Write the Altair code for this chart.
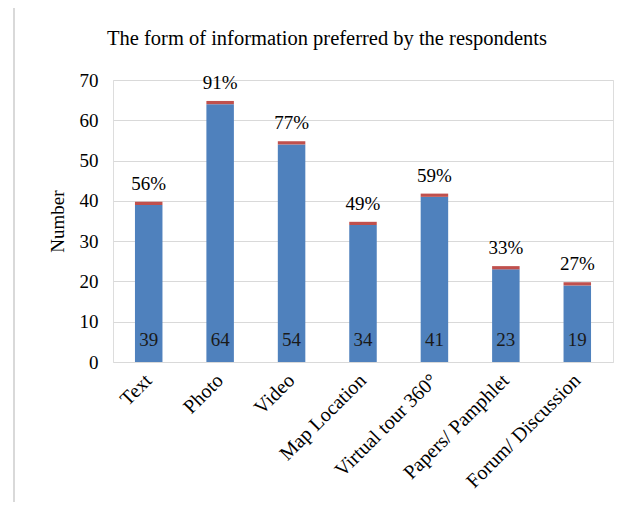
import altair as alt
import pandas as pd

categories = ["Text", "Photo", "Video", "Map Location", "Virtual tour 360°", "Papers/ Pamphlet", "Forum/ Discussion"]
counts = [39, 64, 54, 34, 41, 23, 19]
extra = [0.8, 0.8, 0.8, 0.8, 0.8, 0.8, 0.8]
percents = ["56%", "91%", "77%", "49%", "59%", "33%", "27%"]

FONT = "Times New Roman, Liberation Serif, serif"
FS = 19
BLUE = "#4F81BD"
RED = "#C0504D"

rows = []
for c, v, e in zip(categories, counts, extra):
    rows.append({"cat": c, "series": "a", "value": v, "order": 0})
    rows.append({"cat": c, "series": "b", "value": e, "order": 1})
stack_df = pd.DataFrame(rows)

lab_df = pd.DataFrame({
    "cat": categories,
    "count": counts,
    "total": [v + e for v, e in zip(counts, extra)],
    "pct": percents,
})

xenc = alt.X("cat:N", sort=categories, title=None,
             scale=alt.Scale(paddingInner=0.615, paddingOuter=0.3075),
             axis=alt.Axis(labelAngle=-45, labelAlign="right", labelBaseline="middle",
                           labelFont=FONT, labelFontSize=20, labelColor="#000000",
                           domain=False, ticks=False, labelPadding=15, labelLimit=300))

bars = alt.Chart(stack_df).mark_bar().encode(
    x=xenc,
    y=alt.Y("value:Q", stack="zero", title="Number",
            scale=alt.Scale(domain=[0, 70], nice=False),
            axis=alt.Axis(values=[0, 10, 20, 30, 40, 50, 60, 70], grid=True,
                          gridColor="#D9D9D9", domain=False, ticks=False,
                          labelFont=FONT, labelFontSize=FS, labelColor="#000000",
                          labelPadding=15, titleFont=FONT, titleFontSize=FS,
                          titleFontWeight="normal", titleColor="#000000",
                          titlePadding=12)),
    color=alt.Color("series:N", scale=alt.Scale(domain=["a", "b"], range=[BLUE, RED]), legend=None),
    order=alt.Order("order:Q"),
)

count_text = alt.Chart(lab_df).mark_text(font=FONT, fontSize=FS, color="#1a1a1a", baseline="middle").encode(
    x=alt.X("cat:N", sort=categories),
    y=alt.datum(5.5),
    text=alt.Text("count:Q"),
)

pct_text = alt.Chart(lab_df).mark_text(font=FONT, fontSize=FS, color="#000000", baseline="alphabetic", dy=-12).encode(
    x=alt.X("cat:N", sort=categories),
    y=alt.Y("total:Q"),
    text=alt.Text("pct:N"),
)

border_left = alt.Chart(lab_df).mark_rule(color="#D9D9D9", strokeWidth=1.5).encode(
    x=alt.value(-99), y=alt.value(-75), y2=alt.value(430)
)
border_top = alt.Chart(lab_df).mark_rule(color="#D9D9D9", strokeWidth=1.5).encode(
    x=alt.value(-99), x2=alt.value(520), y=alt.value(-75)
)

chart = alt.layer(bars, count_text, pct_text, border_left, border_top).properties(
    width=500, height=282,
    title=alt.TitleParams("The form of information preferred by the respondents",
                          font=FONT, fontSize=20.5, fontWeight="normal", color="#000000",
                          anchor="middle", dx=-36, offset=-45),
    padding={"left": 105, "top": 72, "right": 6, "bottom": 140},
    autosize=alt.AutoSizeParams(type="none"),
).configure_view(stroke=None).configure(background="#FFFFFF")

chart.save("out.html", embed_options={"renderer": "svg", "actions": False})
